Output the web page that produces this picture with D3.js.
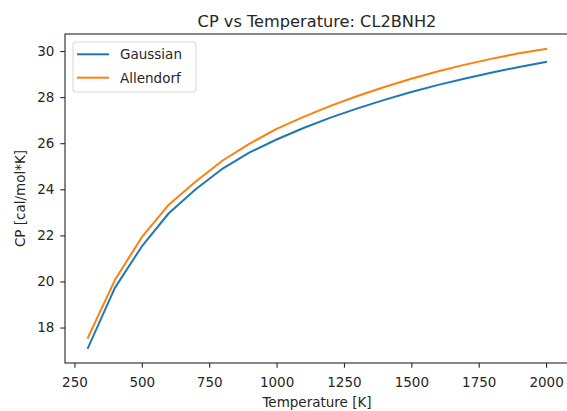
<!DOCTYPE html>
<html>
<head>
<meta charset="utf-8">
<script src="https://cdn.jsdelivr.net/npm/d3@7"></script>
<style>
  body { margin: 0; background: #fff; }
  text { font-family: "DejaVu Sans", sans-serif; fill: #262626; }
</style>
</head>
<body>
<div id="chart"></div>
<script>
// temperatures [K] and heat capacity series
let temperatures = [300, 400, 500, 600, 700, 800, 900, 1000, 1100, 1200, 1300, 1400, 1500, 1600, 1700, 1800, 1900, 2000]
let gaussian = [17.11, 19.72, 21.52, 22.96, 24.0, 24.9, 25.6, 26.16, 26.66, 27.11, 27.51, 27.88, 28.22, 28.53, 28.81, 29.07, 29.31, 29.53]
let allendorf = [17.56, 20.06, 21.92, 23.33, 24.34, 25.25, 25.98, 26.62, 27.14, 27.62, 28.05, 28.44, 28.80, 29.12, 29.41, 29.67, 29.90, 30.09]
let seriesNames = ['Gaussian', 'Allendorf']
let seriesColors = ['#1f77b4', '#ff7f0e']
let xTicks = [250, 500, 750, 1000, 1250, 1500, 1750, 2000]
let yTicks = [18, 20, 22, 24, 26, 28, 30]

// set the dimensions and margins of the graph
let margin = {top: 34, right: 0, bottom: 48, left: 65},
    width = 504,
    height = 329;

let fontSize = 13.5

let svg = d3.select("#chart")
    .append("svg")
    .attr("width", 567)
    .attr("height", 411)

let g = svg.append("g")
    .attr("transform", "translate(" + margin.left + "," + margin.top + ")");

// x and y scales, padded by 5% like matplotlib
let xPad = (2000 - 300) * 0.05
let x = d3.scaleLinear()
    .domain([300 - xPad, 2000 + xPad])
    .range([0, width])

let yMin = d3.min(gaussian), yMax = d3.max(allendorf)
let yPad = (yMax - yMin) * 0.05
let y = d3.scaleLinear()
    .domain([yMin - yPad, yMax + yPad])
    .range([height, 0])

// draw the two lines
let line = d3.line()
    .x(function(d) {return x(d[0])})
    .y(function(d) {return y(d[1])})

let allSeries = [gaussian, allendorf]
allSeries.forEach(function(s, i) {
    g.append("path")
        .datum(temperatures.map(function(t, j) {return [t, s[j]]}))
        .attr("d", line)
        .attr("fill", "none")
        .attr("stroke", seriesColors[i])
        .attr("stroke-width", 2)
        .attr("stroke-linejoin", "round")
        .attr("stroke-linecap", "square")
})

// axes
let xAxis = g.append("g")
    .attr("transform", "translate(0," + height + ")")
    .call(d3.axisBottom(x).tickValues(xTicks).tickSize(4.7).tickPadding(6).tickFormat(d3.format("d")))
let yAxis = g.append("g")
    .call(d3.axisLeft(y).tickValues(yTicks).tickSize(4.7).tickPadding(6).tickFormat(d3.format("d")))

;[xAxis, yAxis].forEach(function(a) {
    a.select(".domain").remove()
    a.selectAll("line").attr("stroke", "#262626").attr("stroke-width", 1.1)
    a.selectAll("text").style("font-size", fontSize + "px").attr("fill", "#262626")
})
// x tick labels: put the baseline where the reference has it
xAxis.selectAll("text").attr("y", 23.5).attr("dy", 0)

// frame around the axes
g.append("rect")
    .attr("width", width)
    .attr("height", height)
    .attr("fill", "none")
    .attr("stroke", "#262626")
    .attr("stroke-width", 1.1)

// title and axis labels
svg.append("text")
    .attr("x", margin.left + width / 2)
    .attr("y", 27)
    .style("text-anchor", "middle")
    .style("font-size", "16.2px")
    .text("CP vs Temperature: CL2BNH2")

svg.append("text")
    .attr("x", margin.left + width / 2)
    .attr("y", 406.5)
    .style("text-anchor", "middle")
    .style("font-size", fontSize + "px")
    .text("Temperature [K]")

svg.append("text")
    .attr("transform", "rotate(-90)")
    .attr("x", -(margin.top + height / 2))
    .attr("y", 25)
    .style("text-anchor", "middle")
    .style("font-size", fontSize + "px")
    .text("CP [cal/mol*K]")

// legend
let legend = g.append("g").attr("transform", "translate(8,8)")
legend.append("rect")
    .attr("width", 123)
    .attr("height", 50)
    .attr("rx", 3)
    .attr("fill", "#fff")
    .attr("fill-opacity", 0.8)
    .attr("stroke", "#d9d9d9")
    .attr("stroke-width", 1.1)

seriesNames.forEach(function(name, i) {
    let ly = 12.3 + i * 23.4
    legend.append("line")
        .attr("x1", 4).attr("x2", 36)
        .attr("y1", ly).attr("y2", ly)
        .attr("stroke", seriesColors[i])
        .attr("stroke-width", 2)
    legend.append("text")
        .attr("x", 47)
        .attr("y", ly + 4.8)
        .style("font-size", fontSize + "px")
        .text(name)
})
</script>
</body>
</html>
